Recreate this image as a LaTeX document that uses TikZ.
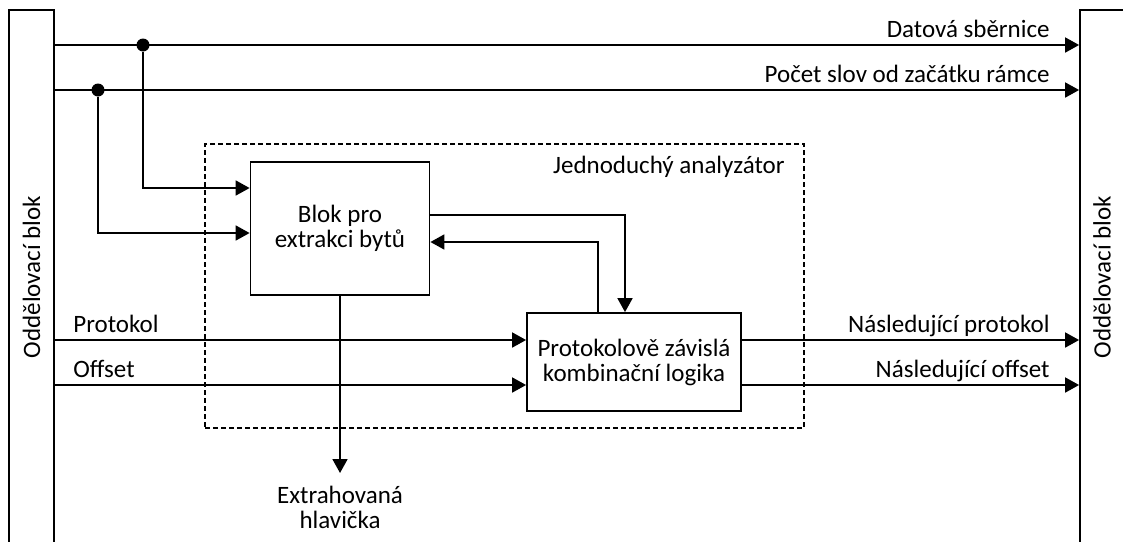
\documentclass[tikz,border=0pt]{standalone}
\usepackage{fontspec}
\setmainfont{Carlito}
\usetikzlibrary{arrows.meta}

\tikzset{
    blk/.style={draw, line width=0.9pt, fill=white, align=center, inner sep=2pt},
    sepblk/.style={draw, line width=0.9pt, minimum width=22pt, inner sep=0pt},
    sig/.style={line width=0.9pt, -{Triangle[length=7pt, width=7.5pt]}},
    dot/.style={circle, fill=black, inner sep=0pt, minimum size=6.5pt},
    lbl/.style={inner sep=0pt}
}

\begin{document}
\begin{tikzpicture}[x=0.5pt, y=-0.5pt, font=\fontsize{12.5}{12.5}\selectfont]

                %----- FRAME -----
                \useasboundingbox (0,0) rectangle (1123,541);
                \clip (0,0) rectangle (1123,541);

                %----- SEPARATING BLOCKS -----
                \node[sepblk, minimum width=22.5pt, minimum height=267pt]
                    (sepL) at (31.5,277) {\rotatebox{90}{Oddělovací blok}};
                \node[sepblk, minimum height=267pt]
                    (sepR) at (1102,277) {\rotatebox{90}{Oddělovací blok}};

                %----- ANALYZER (dashed) -----
                \node[draw, dashed, dash pattern=on 2.5pt off 1.5pt, line width=0.8pt,
                      minimum width=299.5pt, minimum height=142pt, inner sep=0pt]
                    (anlz) at (504.5,286) {};
                \node[lbl, anchor=base east] (anlzLbl) at (785,173) {Jednoduchý analyzátor};

                %----- INNER BLOCKS -----
                \node[blk, minimum width=89.5pt, minimum height=66.5pt]
                    (extr) at (340,228.5) {Blok pro\\extrakci bytů};
                \node[blk, minimum width=107pt, minimum height=49pt]
                    (logic) at (634,362) {Protokolově závislá\\kombinační logika};

                %----- BUS LINES -----
                \node[dot] (jData) at (143,45) {};
                \node[dot] (jCnt)  at (98,90) {};

                \draw[sig] (sepL.east |- jData) -- (sepR.west |- jData);
                \draw[sig] (sepL.east |- jCnt)  -- (sepR.west |- jCnt);
                \node[lbl, anchor=base east] (lData) at (1050,37) {Datová sběrnice};
                \node[lbl, anchor=base east] (lCnt)  at (1050,82) {Počet slov od začátku rámce};

                % taps into the extraction block
                \draw[sig] (jData) |- ([yshift=20.25pt]extr.west);
                \draw[sig] (jCnt)  |- ([yshift=-2.25pt]extr.west);

                %----- EXTRACTION <-> LOGIC -----
                \draw[sig] ([yshift=6.75pt]extr.east) -| ([xshift=-4.5pt]logic.north);
                \draw[sig] ([xshift=-18pt]logic.north) |- ([yshift=-6.75pt]extr.east);

                %----- PROTOCOL / OFFSET -----
                \coordinate (pIn) at ([yshift=11pt]logic.west);
                \coordinate (oIn) at ([yshift=-11.5pt]logic.west);
                \coordinate (pOut) at ([yshift=11pt]logic.east);
                \coordinate (oOut) at ([yshift=-11.5pt]logic.east);

                \draw[sig] (sepL.east |- pIn) -- (pIn);
                \draw[sig] (sepL.east |- oIn) -- (oIn);
                \draw[sig] (pOut) -- (sepR.west |- pOut);
                \draw[sig] (oOut) -- (sepR.west |- oOut);

                \node[lbl, anchor=base west] (lProt)  at (73,332)   {Protokol};
                \node[lbl, anchor=base west] (lOff)   at (73,377)   {Offset};
                \node[lbl, anchor=base east] (lNProt) at (1050,332) {Následující protokol};
                \node[lbl, anchor=base east] (lNOff)  at (1050,377) {Následující offset};

                %----- EXTRACTED HEADER -----
                \node[align=center, anchor=north, inner sep=6.5pt]
                    (hdr) at (340,473) {Extrahovaná\\hlavička};
                \draw[sig] (extr.south) -- (hdr.north);

            \end{tikzpicture}
\end{document}
